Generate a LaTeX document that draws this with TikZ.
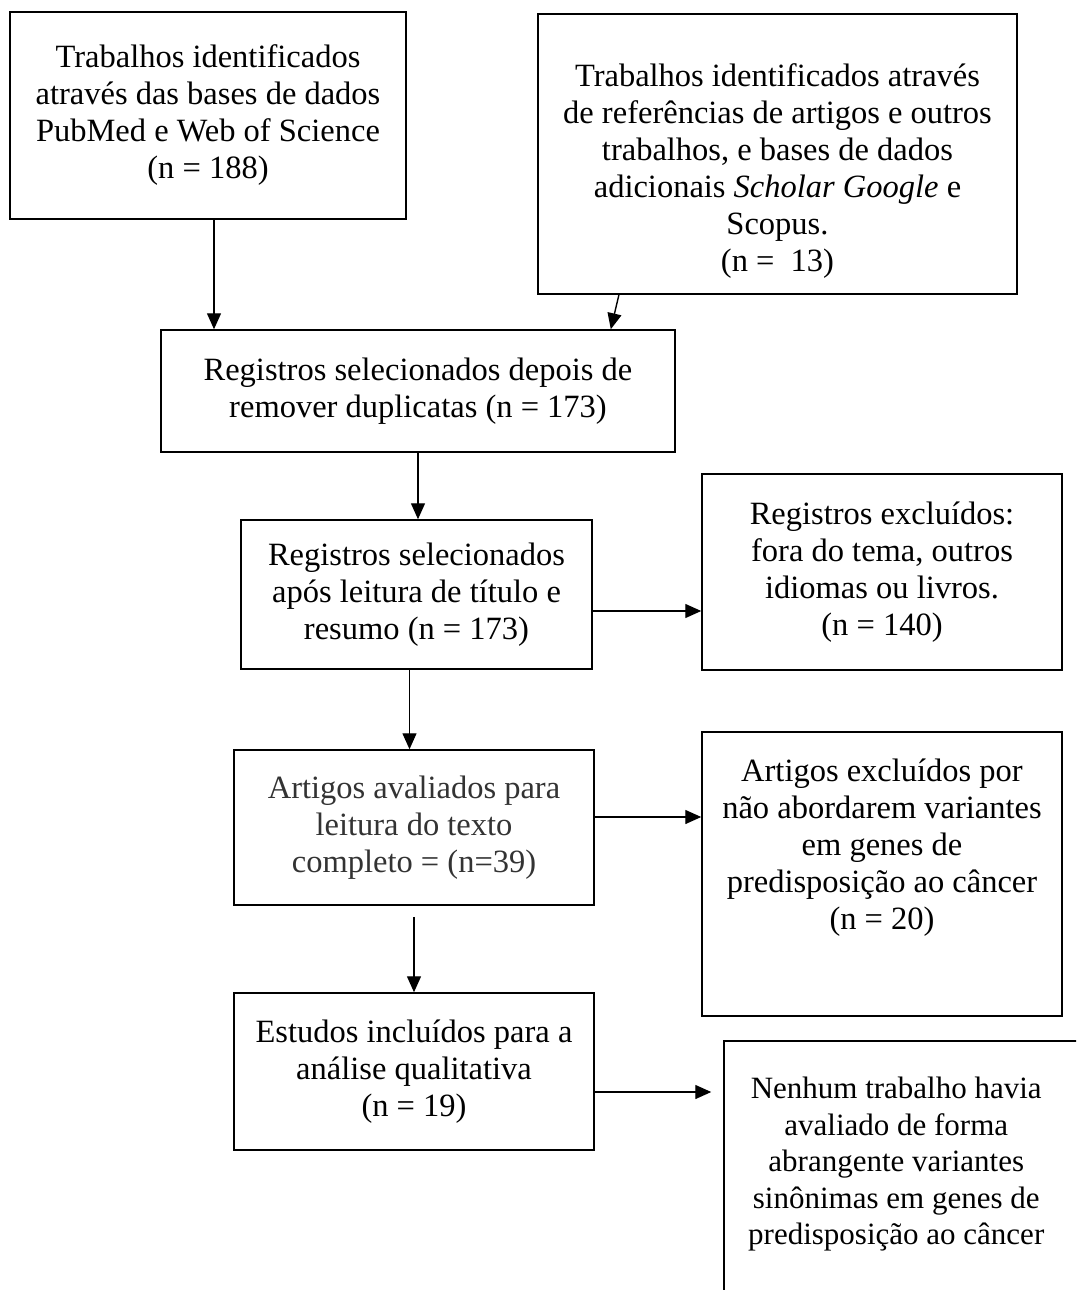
\documentclass[tikz,border=0pt]{standalone}
\usepackage{fontspec}
\setmainfont{Liberation Serif}
\usetikzlibrary{positioning,calc,arrows.meta}
\definecolor{textogris}{HTML}{333333}

\tikzset{
  box/.style={draw, line width=1.5pt, align=center, inner sep=0pt},
  txt/.style={align=center, inner sep=0pt},
  seta/.style={line width=1.4pt, -{Triangle[length=16pt,width=14pt]}},
}

\begin{document}
\begin{tikzpicture}[x=1pt, y=-1pt, font=\fontsize{32.5}{37}\selectfont]
\clip (0,0) rectangle (1076,1290);
% caixas de identificacao
\node[box, minimum width=396pt, minimum height=207pt] (bases) at (208,115.5)
  {Trabalhos identificados\\ através das bases de dados\\ PubMed e Web of Science\\ (n = 188)};
\node[box, minimum width=479pt, minimum height=280pt] (outras) at (777.5,154) {};
\node[txt, below=50pt of outras.north] (outras-txt)
  {Trabalhos identificados através\\ de referências de artigos e outros\\ trabalhos, e bases de dados\\ adicionais \textit{Scholar Google} e\\ Scopus.\\ (n = \ 13)};
% triagem
\node[box, minimum width=514pt, minimum height=122pt] (dupl) at (418,391)
  {Registros selecionados depois de\\ remover duplicatas (n = 173)};
\node[box, minimum width=351pt, minimum height=149pt] (titulo) at (416.5,594.5)
  {Registros selecionados\\ após leitura de título e\\ resumo (n = 173)};
\node[box, minimum width=360pt, minimum height=196pt] (excl1) at (882,572)
  {Registros excluídos:\\ fora do tema, outros\\ idiomas ou livros.\\ (n = 140)};
% elegibilidade
\node[box, minimum width=360pt, minimum height=155pt, text=textogris] (texto) at (414,827.5)
  {Artigos avaliados para\\ leitura do texto\\ completo = (n=39)};
\node[box, minimum width=360pt, minimum height=284pt] (excl2) at (882,874) {};
\node[txt, below=27pt of excl2.north] (excl2-txt)
  {Artigos excluídos por\\ não abordarem variantes\\ em genes de\\ predisposição ao câncer\\ (n = 20)};
% inclusao
\node[box, minimum width=360pt, minimum height=157pt] (incl) at (414,1071.5)
  {Estudos incluídos para a\\ análise qualitativa\\ (n = 19)};
\node[box, minimum width=390pt, minimum height=290pt] (nenhum) at (919,1186) {};
\node[txt, anchor=north, font=\fontsize{31}{36.5}\selectfont] (nenhum-txt) at ($(nenhum.north west)+(173,37)$)
  {Nenhum trabalho havia\\ avaliado de forma\\ abrangente variantes\\ sinônimas em genes de\\ predisposição ao câncer};

% setas
\draw[seta] ([xshift=6pt]bases.south) -- ([xshift=6pt]bases.south |- dupl.north);
\draw[seta] ($(outras.south west)!0.17!(outras.south east)$) -- ($(dupl.north west)!0.874!(dupl.north east)$);
\draw[seta] (dupl.south) -- (dupl.south |- titulo.north);
\draw[seta] ([yshift=-16.5pt]titulo.east) -- ([yshift=-16.5pt]titulo.east -| excl1.west);
\draw[seta] ([xshift=-7pt]titulo.south) -- ([xshift=-7pt]titulo.south |- texto.north);
\draw[seta] ([yshift=10.5pt]texto.east) -- ([yshift=10.5pt]texto.east -| excl2.west);
\draw[seta] ([yshift=-11pt]texto.south) -- (incl.north);
\draw[seta, shorten >=12pt] ([yshift=-20.5pt]incl.east) -- ([yshift=-20.5pt]incl.east -| nenhum.west);
\end{tikzpicture}
\end{document}
